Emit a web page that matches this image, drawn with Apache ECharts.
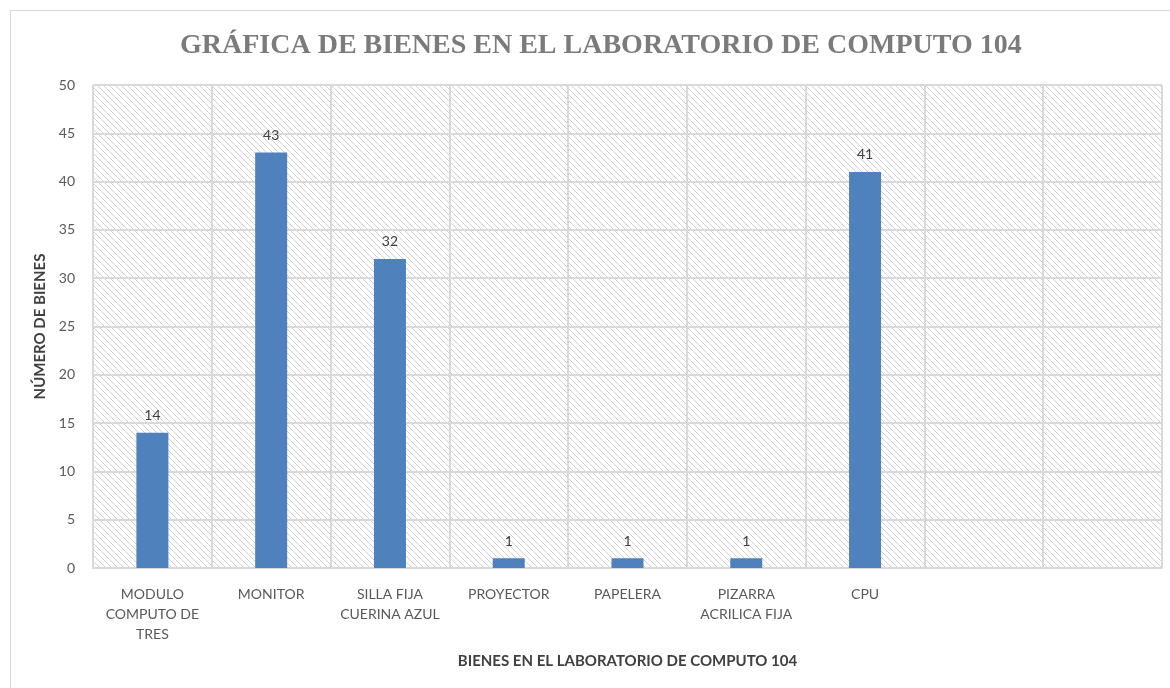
<!DOCTYPE html>
<html>
<head>
<meta charset="utf-8">
<script src="https://cdn.jsdelivr.net/npm/echarts@6/dist/echarts.min.js"></script>
<style>
    html, body { margin: 0; padding: 0; background: #fff; }
    .frame {
        position: absolute; left: 10px; top: 10px; width: 1170px; height: 700px;
        border: 1px solid #d9d9d9; box-sizing: border-box;
    }
    #chart { position: absolute; left: 0; top: 0; width: 1170px; height: 688px; }
</style>
</head>
<body>
<div class="frame"></div>
<div id="chart"></div>
<script>
const categories = [
    'MODULO\nCOMPUTO DE\nTRES', 'MONITOR', 'SILLA FIJA\nCUERINA AZUL', 'PROYECTOR',
    'PAPELERA', 'PIZARRA\nACRILICA FIJA', 'CPU', '', ''
];
const valores = [14, 43, 32, 1, 1, 1, 41, null, null];
const yTicks = { min: 0, max: 50, interval: 5 };

// fondo rayado del area de trazado
const makeHatch = () => {
    const c = document.createElement('canvas');
    c.width = 6; c.height = 6;
    const ctx = c.getContext('2d');
    ctx.fillStyle = '#ffffff';
    ctx.fillRect(0, 0, 6, 6);
    ctx.strokeStyle = '#d2d2d2';
    ctx.lineWidth = 1;
    for (let k = -6; k <= 6; k += 6) {
        ctx.beginPath();
        ctx.moveTo(k, 0);
        ctx.lineTo(k + 6, 6);
        ctx.stroke();
    }
    return c;
};

const myChart = echarts.init(document.getElementById('chart'));
const font = 'Lato, "Open Sans", sans-serif';

const option = {
    animation: false,
    title: {
        text: 'GRÁFICA DE BIENES EN EL LABORATORIO DE COMPUTO 104',
        left: 175,
        top: 27,
        textStyle: {
            fontFamily: '"Liberation Serif", serif',
            fontWeight: 'bold',
            fontSize: 28,
            color: '#7b7b7b',
        },
    },
    grid: {
        left: 93,
        right: 8,
        top: 85,
        bottom: 120,
        show: true,
        borderWidth: 0,
        backgroundColor: { image: makeHatch(), repeat: 'repeat' },
    },
    xAxis: {
        type: 'category',
        data: categories,
        name: 'BIENES EN EL LABORATORIO DE COMPUTO 104',
        nameLocation: 'middle',
        nameGap: 86,
        nameTextStyle: { fontFamily: font, fontWeight: 'bold', fontSize: 15, color: '#404040' },
        axisLine: { lineStyle: { color: '#d9d9d9', width: 2 } },
        axisTick: { show: false },
        splitLine: { show: true, lineStyle: { color: '#d9d9d9', width: 2 } },
        axisLabel: {
            interval: 0,
            margin: 16,
            lineHeight: 20,
            fontFamily: font,
            fontSize: 14,
            color: '#595959',
        },
    },
    yAxis: {
        type: 'value',
        min: yTicks.min,
        max: yTicks.max,
        interval: yTicks.interval,
        name: 'NÚMERO DE BIENES',
        nameLocation: 'middle',
        nameGap: 42,
        nameTextStyle: { fontFamily: font, fontWeight: 'bold', fontSize: 15, color: '#404040' },
        axisLine: { show: false },
        axisTick: { show: false },
        splitLine: { lineStyle: { color: '#d9d9d9', width: 2 } },
        axisLabel: { fontFamily: font, fontSize: 14, color: '#595959', margin: 18 },
    },
    series: [
        {
            type: 'bar',
            data: valores,
            barWidth: 32,
            itemStyle: { color: '#4f81bd' },
            label: {
                show: true,
                position: 'top',
                distance: 10,
                fontFamily: font,
                fontSize: 14,
                color: '#404040',
            },
        },
    ],
};

myChart.setOption(option);
</script>
</body>
</html>
